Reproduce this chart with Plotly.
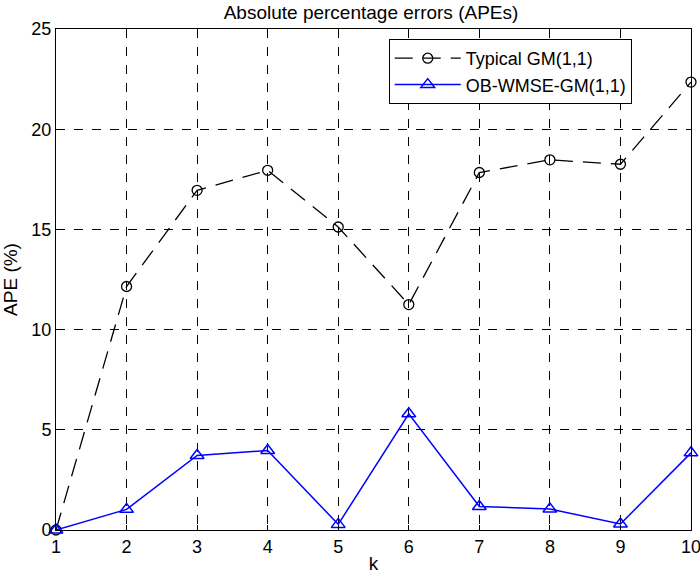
import plotly.graph_objects as go

k = [1, 2, 3, 4, 5, 6, 7, 8, 9, 10]
typical_gm = [0.0, 12.15, 16.95, 17.95, 15.12, 11.25, 17.84, 18.47, 18.25, 22.35]
ob_wmse_gm = [0.0, 1.03, 3.72, 3.97, 0.28, 5.8, 1.17, 1.05, 0.3, 3.85]
y_ticks = [0, 5, 10, 15, 20, 25]

FONT = "Liberation Sans, Arial, Helvetica, sans-serif"

fig = go.Figure()
fig.add_trace(go.Scatter(
    x=k, y=typical_gm, name="Typical GM(1,1)", mode="lines+markers",
    line=dict(color="black", width=1.3, dash="18px,10px"),
    marker=dict(symbol="circle-open", size=10, color="black", line=dict(width=1.3)),
    cliponaxis=False,
))
fig.add_trace(go.Scatter(
    x=k, y=ob_wmse_gm, name="OB-WMSE-GM(1,1)", mode="lines+markers",
    line=dict(color="#0000ff", width=1.5),
    marker=dict(symbol="triangle-up-open", size=12, color="#0000ff", line=dict(width=1.5)),
    cliponaxis=False,
))

axis_common = dict(
    showline=True, linecolor="black", linewidth=1, mirror="ticks",
    ticks="inside", ticklen=5, tickcolor="black",
    showgrid=True, gridcolor="black", griddash="dash", gridwidth=1,
    zeroline=False, tickfont=dict(size=18, color="black", family=FONT),
    automargin=False, ticklabeloverflow="allow",
)

fig.update_xaxes(range=[1, 10], tickvals=k,
                 title=dict(text="k", font=dict(size=19, color="black"), standoff=1), **axis_common)
fig.update_yaxes(range=[0, 25], tickvals=y_ticks,
                 title=dict(text="APE (%)", font=dict(size=19, color="black"), standoff=8), **axis_common)

fig.update_layout(
    width=700, height=579,
    margin=dict(l=56, r=9, t=29, b=49),
    paper_bgcolor="white", plot_bgcolor="white",
    font=dict(family=FONT, color="black", size=19),
    title=dict(text="Absolute percentage errors (APEs)", x=0.53, xanchor="center",
               y=1 - 12 / 579, yanchor="middle",
               font=dict(size=19, color="black")),
    legend=dict(x=0.524, y=0.98, xanchor="left", yanchor="top", bgcolor="white",
                bordercolor="black", borderwidth=1, font=dict(size=18, color="black"),
                itemwidth=66, tracegroupgap=0),
    showlegend=True,
)

fig.write_html("out.html", config={"displayModeBar": False},
               post_script="document.body.style.margin='0px';document.body.style.overflow='hidden';")
